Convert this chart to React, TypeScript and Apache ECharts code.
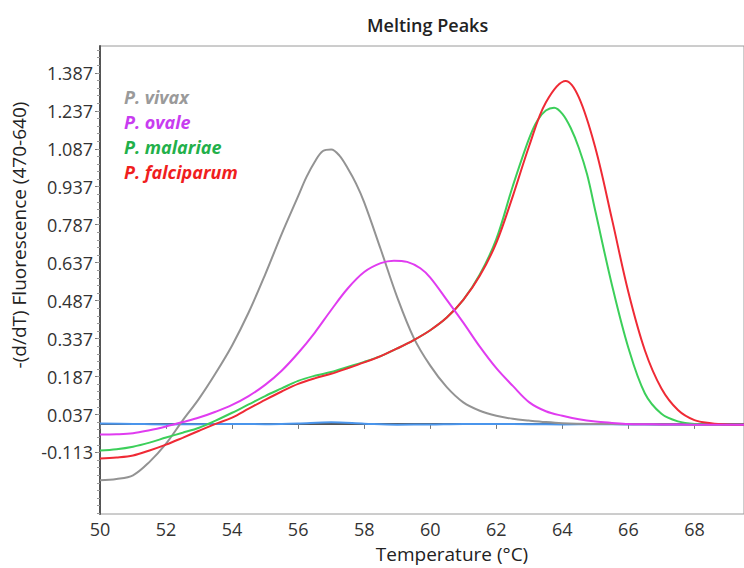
import React, { useEffect, useRef } from "react";
import * as echarts from "echarts";

const FONT = "'Open Sans', 'Noto Sans', sans-serif";

const yTickLabels = [-0.113, 0.037, 0.187, 0.337, 0.487, 0.637, 0.787, 0.937, 1.087, 1.237, 1.387];
const xTickLabels = [50, 52, 54, 56, 58, 60, 62, 64, 66, 68];

const vivaxT = [50, 50.5, 51, 51.5, 52, 52.5, 53, 53.5, 54, 54.5, 55, 55.5, 56, 56.25, 56.5, 56.75, 57, 57.25, 57.5, 57.75, 58, 58.5, 59, 59.5, 60, 60.5, 61, 61.5, 62, 62.5, 63, 63.5, 64, 65, 66, 67, 68, 69, 69.5];
const vivaxV = [-0.223, -0.218, -0.203, -0.15, -0.078, 0.013, 0.1, 0.2, 0.31, 0.44, 0.59, 0.75, 0.9, 0.975, 1.035, 1.078, 1.084, 1.06, 1.01, 0.95, 0.875, 0.69, 0.5, 0.34, 0.23, 0.145, 0.085, 0.052, 0.032, 0.02, 0.013, 0.007, 0.003, 0.0, -0.001, -0.002, -0.003, -0.003, -0.003];

const ovaleT = [50, 50.5, 51, 51.5, 52, 52.5, 53, 53.5, 54, 54.5, 55, 55.5, 56, 56.5, 57, 57.5, 58, 58.5, 58.9, 59.3, 59.7, 60, 60.5, 61, 61.5, 62, 62.5, 63, 63.5, 64, 64.5, 65, 65.5, 66, 67, 68, 69, 69.5];
const ovaleV = [-0.042, -0.041, -0.037, -0.025, -0.01, 0.007, 0.025, 0.048, 0.075, 0.11, 0.154, 0.21, 0.28, 0.36, 0.45, 0.535, 0.6, 0.635, 0.645, 0.64, 0.615, 0.578, 0.49, 0.4, 0.305, 0.22, 0.15, 0.085, 0.05, 0.032, 0.018, 0.009, 0.004, 0.0, -0.002, -0.003, -0.003, -0.003];

const malariaeT = [50, 50.5, 51, 51.5, 52, 52.5, 53, 53.5, 54, 54.5, 55, 55.5, 56, 56.5, 57, 57.5, 58, 58.5, 59, 59.5, 60, 60.5, 61, 61.5, 62, 62.5, 63, 63.25, 63.5, 63.75, 64, 64.25, 64.5, 64.75, 65, 65.5, 66, 66.5, 67, 67.5, 68, 69, 69.5];
const malariaeV = [-0.105, -0.1, -0.09, -0.074, -0.054, -0.035, -0.015, 0.013, 0.044, 0.077, 0.11, 0.14, 0.17, 0.19, 0.205, 0.225, 0.245, 0.268, 0.298, 0.331, 0.37, 0.42, 0.49, 0.59, 0.73, 0.94, 1.13, 1.2, 1.238, 1.249, 1.225, 1.17, 1.09, 0.985, 0.84, 0.55, 0.3, 0.12, 0.04, 0.01, 0.0, -0.003, -0.003];

const falciparumT = [50, 50.5, 51, 51.5, 52, 52.5, 53, 53.5, 54, 54.5, 55, 55.5, 56, 56.5, 57, 57.5, 58, 58.5, 59, 59.5, 60, 60.5, 61, 61.5, 62, 62.5, 63, 63.5, 64.1, 64.5, 65, 65.5, 66, 66.5, 67, 67.5, 68, 68.5, 69, 69.5];
const falciparumV = [-0.137, -0.133, -0.125, -0.105, -0.082, -0.055, -0.027, 0.0, 0.025, 0.06, 0.095, 0.128, 0.158, 0.18, 0.198, 0.22, 0.243, 0.268, 0.298, 0.331, 0.37, 0.42, 0.49, 0.585, 0.715, 0.9, 1.1, 1.27, 1.355, 1.29, 1.09, 0.81, 0.52, 0.29, 0.14, 0.055, 0.015, 0.003, -0.002, -0.003];

const baselineT = [50, 51, 52, 53, 54, 55, 56, 57, 58, 59, 60, 61, 62, 63, 64, 65, 66, 67, 68, 69, 69.5];
const baselineV = [0.002, 0.0, -0.002, -0.001, 0.0, -0.001, 0.002, 0.006, 0.001, -0.003, -0.002, 0.0, 0.0, -0.001, -0.002, -0.001, -0.002, -0.003, -0.003, -0.003, -0.003];

const Y_MIN = -0.356;
const Y_MAX = 1.493;
const X_MIN = 50;
const X_MAX = 69.5;

function pairs(t: number[], v: number[]) {
  return t.map((x, i) => [x, v[i]]);
}

export default function App() {
  const ref = useRef<HTMLDivElement>(null);
  useEffect(() => {
    if (!ref.current) return;
    const chart = echarts.init(ref.current, undefined, { renderer: "svg" });

    const minorTicks: number[] = [];
    for (let k = -8; k < 60; k++) {
      const v = Math.round((-0.113 + 0.03 * k) * 1000) / 1000;
      if (v > Y_MIN && v < Y_MAX) minorTicks.push(v);
    }

    const lineSeries = (name: string, t: number[], v: number[], color: string, width = 2) => ({
      name,
      type: "line",
      data: pairs(t, v),
      showSymbol: false,
      smooth: 0.35,
      lineStyle: { color, width },
      itemStyle: { color },
    });

    chart.setOption({
      animation: false,
      backgroundColor: "#ffffff",
      title: {
        text: "Melting Peaks",
        left: 362,
        top: 11,
        textStyle: { fontFamily: FONT, fontSize: 18, fontWeight: 600, color: "#222" },
      },
      legend: {
        orient: "vertical",
        left: 113,
        top: 83,
        itemWidth: 0,
        itemHeight: 0,
        itemGap: 7,
        selectedMode: false,
        itemStyle: { opacity: 0 },
        lineStyle: { opacity: 0 },
        textStyle: { fontFamily: FONT, fontSize: 18, fontStyle: "italic", fontWeight: "bold" },
        data: [
          { name: "P. vivax", textStyle: { color: "#9a9a9a" } },
          { name: "P. ovale", textStyle: { color: "#c83cf0" } },
          { name: "P. malariae", textStyle: { color: "#22b04a" } },
          { name: "P. falciparum", textStyle: { color: "#f01e1e" } },
        ],
      },
      grid: { left: 100, top: 46, right: -4, bottom: 51, show: true, borderColor: "#9a9a9a", borderWidth: 1 },
      xAxis: {
        type: "value",
        min: X_MIN,
        max: X_MAX,
        name: "Temperature (°C)",
        nameLocation: "middle",
        nameGap: 30,
        nameTextStyle: { fontFamily: FONT, fontSize: 19, color: "#222", padding: [0, 0, 0, 60] },
        axisLine: { show: true, lineStyle: { color: "#555", width: 2 } },
        axisTick: { show: true, length: 5, lineStyle: { color: "#777" }, customValues: xTickLabels },
        axisLabel: { fontFamily: FONT, fontSize: 18, color: "#333", margin: 6, customValues: xTickLabels },
        splitLine: { show: false },
      },
      yAxis: [
        {
          type: "value",
          min: Y_MIN,
          max: Y_MAX,
          name: "-(d/dT) Fluorescence (470-640)",
          nameLocation: "middle",
          nameRotate: 90,
          nameGap: 72,
          nameTextStyle: { fontFamily: FONT, fontSize: 19, color: "#222", padding: [0, 0, 0, 90] },
          axisLine: { show: true, lineStyle: { color: "#555", width: 2 } },
          axisTick: { show: true, length: 5, lineStyle: { color: "#777" }, customValues: yTickLabels },
          axisLabel: {
            fontFamily: FONT,
            fontSize: 18,
            color: "#333",
            margin: 7,
            customValues: yTickLabels,
            formatter: (v: number) => v.toFixed(3),
          },
          splitLine: { show: false },
        },
        {
          type: "value",
          min: Y_MIN,
          max: Y_MAX,
          position: "left",
          axisLine: { show: false },
          axisTick: { show: true, length: 3, lineStyle: { color: "#999" }, customValues: minorTicks },
          axisLabel: { show: false },
          splitLine: { show: false },
        },
      ],
      series: [
        lineSeries("baseline", baselineT, baselineV, "#4a95ec", 2),
        lineSeries("P. vivax", vivaxT, vivaxV, "#939393", 2),
        lineSeries("P. malariae", malariaeT, malariaeV, "#3ccf5a", 2),
        lineSeries("P. falciparum", falciparumT, falciparumV, "#ef2a35", 2),
        lineSeries("P. ovale", ovaleT, ovaleV, "#e03cf0", 2),
      ],
    });
    return () => chart.dispose();
  }, []);
  return (
    <div
      ref={ref}
      style={{ position: "fixed", left: 0, top: 0, width: 744, height: 568, background: "#fff" }}
    />
  );
}
